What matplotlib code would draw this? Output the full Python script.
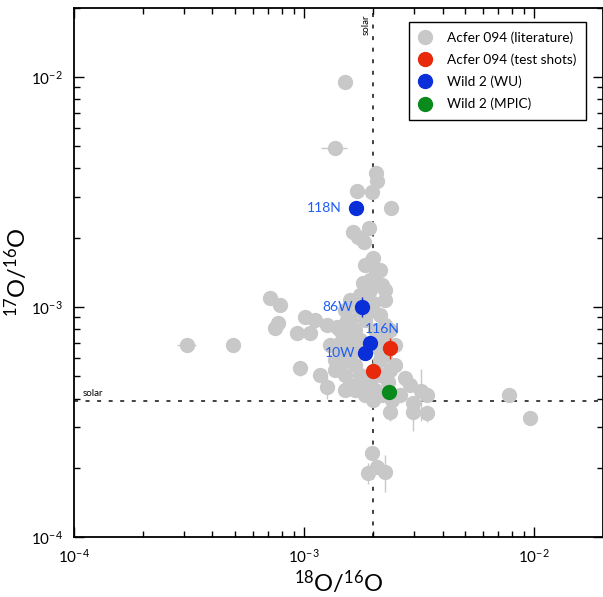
import numpy as np
import matplotlib
matplotlib.use("Agg")
import matplotlib.pyplot as plt
from matplotlib.lines import Line2D

plt.rcParams['font.family'] = ['Lato', 'DejaVu Sans']
plt.rcParams['mathtext.fontset'] = 'custom'
plt.rcParams['mathtext.rm'] = 'Lato'
plt.rcParams['mathtext.it'] = 'Lato:italic'

# Acfer 094 literature data (18O/16O, 17O/16O) and uncertainties
lit_x = [1.51e-3, 1.36e-3, 2.06e-3, 2.08e-3, 1.70e-3, 1.98e-3, 2.39e-3, 1.63e-3,
         1.72e-3, 1.92e-3, 1.82e-3, 2.00e-3, 2.04e-3, 1.98e-3, 1.90e-3, 1.81e-3,
         1.94e-3, 2.00e-3, 2.06e-3, 7.11e-4, 7.86e-4, 1.01e-3, 1.12e-3, 1.26e-3,
         1.39e-3, 7.71e-4, 7.48e-4, 9.33e-4, 1.06e-3, 9.61e-4, 1.17e-3, 1.26e-3,
         1.43e-3, 3.10e-4, 4.91e-4, 2.32e-3, 2.89e-3, 3.43e-3, 2.98e-3, 2.37e-3,
         2.98e-3, 3.43e-3, 2.00e-3, 7.78e-3, 9.62e-3, 1.98e-3, 2.08e-3, 1.90e-3,
         2.25e-3, 1.54e-3, 1.67e-3, 1.51e-3, 1.41e-3, 1.48e-3, 1.585e-3, 1.67e-3,
         1.75e-3, 1.51e-3, 1.43e-3, 1.585e-3, 1.84e-3, 2.04e-3, 2.18e-3, 2.41e-3,
         2.61e-3, 2.75e-3, 2.49e-3, 2.25e-3, 2.20e-3, 2.25e-3, 2.14e-3, 2.04e-3,
         1.75e-3, 1.67e-3, 2.14e-3, 1.585e-3, 1.75e-3, 1.51e-3, 2.25e-3, 2.18e-3,
         1.36e-3, 3.23e-3,
         1.43e-3, 1.585e-3, 1.84e-3, 1.94e-3, 1.75e-3, 1.585e-3, 1.84e-3, 1.43e-3,
         1.30e-3, 1.36e-3, 1.51e-3, 1.67e-3, 1.75e-3, 1.94e-3, 2.14e-3, 2.37e-3,
         2.14e-3, 2.04e-3, 2.25e-3, 2.49e-3, 2.37e-3, 1.84e-3, 1.94e-3, 2.14e-3,
         1.84e-3, 2.25e-3]
lit_y = [9.55e-3, 4.91e-3, 3.83e-3, 3.53e-3, 3.19e-3, 3.16e-3, 2.69e-3, 2.12e-3,
         2.01e-3, 2.20e-3, 1.92e-3, 1.63e-3, 1.34e-3, 1.60e-3, 1.25e-3, 1.27e-3,
         1.19e-3, 1.04e-3, 1.40e-3, 1.09e-3, 1.02e-3, 9.05e-4, 8.78e-4, 8.35e-4,
         8.19e-4, 8.52e-4, 8.11e-4, 7.71e-4, 7.71e-4, 5.43e-4, 5.06e-4, 4.49e-4,
         6.97e-4, 6.84e-4, 6.84e-4, 4.72e-4, 4.58e-4, 4.14e-4, 3.83e-4, 3.49e-4,
         3.49e-4, 3.46e-4, 3.94e-4, 4.14e-4, 3.29e-4, 2.32e-4, 2.02e-4, 1.90e-4,
         1.92e-4, 8.78e-4, 7.94e-4, 7.55e-4, 6.84e-4, 6.18e-4, 5.88e-4, 5.60e-4,
         5.06e-4, 5.06e-4, 5.60e-4, 4.58e-4, 4.14e-4, 4.36e-4, 4.14e-4, 3.94e-4,
         4.14e-4, 4.91e-4, 5.60e-4, 6.18e-4, 7.19e-4, 8.35e-4, 9.23e-4, 7.94e-4,
         7.19e-4, 6.50e-4, 5.88e-4, 1.07e-3, 1.13e-3, 9.70e-4, 1.07e-3, 1.25e-3,
         5.32e-4, 4.30e-4,
         7.94e-4, 7.19e-4, 8.78e-4, 9.70e-4, 9.70e-4, 8.78e-4, 6.50e-4, 6.18e-4,
         6.84e-4, 5.88e-4, 4.36e-4, 4.36e-4, 4.58e-4, 4.82e-4, 5.06e-4, 5.32e-4,
         6.50e-4, 6.84e-4, 7.55e-4, 6.84e-4, 7.94e-4, 1.07e-3, 1.31e-3, 1.45e-3,
         1.52e-3, 1.19e-3]
lit_xerr = [0] * len(lit_x)
lit_yerr = [0] * len(lit_x)
lit_xerr[1] = 0.18e-3
lit_xerr[33] = 0.3e-4
lit_yerr[29] = 0.4e-4
lit_yerr[31] = 0.5e-4
lit_yerr[26] = 0.5e-4
lit_yerr[40] = 0.6e-4
lit_yerr[39] = 0.3e-4
lit_yerr[41] = 0.3e-4
lit_yerr[81] = 1.1e-4
lit_yerr[48] = 0.35e-4
lit_yerr[47] = 0.2e-4

# test shots on Acfer 094
test_x = [2.37e-3, 2.00e-3]
test_y = [6.64e-4, 5.27e-4]
test_yerr = [0.7e-4, 0.2e-4]

# Wild 2 (WU)
wu_names = ['118N', '86W', '116N', '10W']
wu_x = [1.68e-3, 1.79e-3, 1.94e-3, 1.84e-3]
wu_y = [2.69e-3, 1.00e-3, 6.97e-4, 6.31e-4]
wu_yerr = [0.0, 1.0e-4, 0.2e-4, 0.45e-4]

# Wild 2 (MPIC)
mpic_x = [2.34e-3]
mpic_y = [4.27e-4]

solar_18 = 2.0e-3
solar_17 = 3.9e-4

gray = '#c8c8c8'
red = '#e8290b'
blue = '#0a2ed8'
green = '#0a8a1a'
lblue = '#1f5cf5'

fig = plt.figure(figsize=(6.03, 5.97), dpi=100)
ax = fig.add_axes([74 / 603, 60 / 597, 529.3 / 603, 529.3 / 597])
ax.set_xscale('log')
ax.set_yscale('log')
ax.set_xlim(1e-4, 2e-2)
ax.set_ylim(1e-4, 2e-2)

dash = (0, (2.2, 4.2))
ax.axvline(solar_18, color='#333333', lw=1.3, ls=dash, zorder=1)
ax.axhline(solar_17, color='#333333', lw=1.3, ls=dash, zorder=1)

ax.errorbar(lit_x, lit_y, xerr=lit_xerr, yerr=lit_yerr, fmt='o', ms=10,
            color=gray, ecolor=gray, elinewidth=1, capsize=0, zorder=2)
ax.errorbar(test_x, test_y, yerr=test_yerr, fmt='o', ms=10, color=red,
            ecolor=red, elinewidth=1, capsize=0, zorder=4)
ax.errorbar(wu_x, wu_y, yerr=wu_yerr, fmt='o', ms=10, color=blue,
            ecolor=blue, elinewidth=1, capsize=0, zorder=4)
ax.errorbar(mpic_x, mpic_y, fmt='o', ms=10, color=green, zorder=4)

# sample labels
offsets = {'118N': (-10, 0, 'right'), '86W': (-7, 0, 'right'),
           '116N': (-4, 10, 'left'), '10W': (-7, 0, 'right')}
for n, x, y in zip(wu_names, wu_x, wu_y):
    dx, dy, ha = offsets[n]
    ax.annotate(n, (x, y), xytext=(dx, dy), textcoords='offset points',
                ha=ha, va='center', color=lblue, fontsize=10, zorder=5)

ax.annotate('solar', xy=(solar_18, 1), xycoords=('data', 'axes fraction'),
            xytext=(-2, -5), textcoords='offset points', rotation=90,
            ha='right', va='top', fontsize=7)
ax.annotate('solar', xy=(0, solar_17), xycoords=('axes fraction', 'data'),
            xytext=(6, 2), textcoords='offset points',
            ha='left', va='bottom', fontsize=7)

ax.tick_params(which='both', direction='in', top=True, right=True,
               labelsize=11, pad=8)
ax.tick_params(which='major', length=7, width=1)
ax.tick_params(which='minor', length=4, width=1)
for s in ax.spines.values():
    s.set_linewidth(1.3)

ax.set_xlabel('$^{18}$O/$^{16}$O', fontsize=17, labelpad=2)
ax.set_ylabel('$^{17}$O/$^{16}$O', fontsize=17, labelpad=1)

handles = [Line2D([], [], ls='none', marker='o', ms=10, color=c)
           for c in (gray, red, blue, green)]
labels = ['Acfer 094 (literature)', 'Acfer 094 (test shots)',
          'Wild 2 (WU)', 'Wild 2 (MPIC)']
leg = ax.legend(handles, labels, loc='upper right',
                bbox_to_anchor=(586 / 603, 1 - 22 / 597),
                bbox_transform=fig.transFigure, borderaxespad=0,
                fancybox=False, edgecolor='black', framealpha=1,
                fontsize=9.8, handlelength=1, handletextpad=1.1,
                labelspacing=0.7, borderpad=0.7)
leg.get_frame().set_linewidth(1)

plt.savefig('out.png', dpi=100)
